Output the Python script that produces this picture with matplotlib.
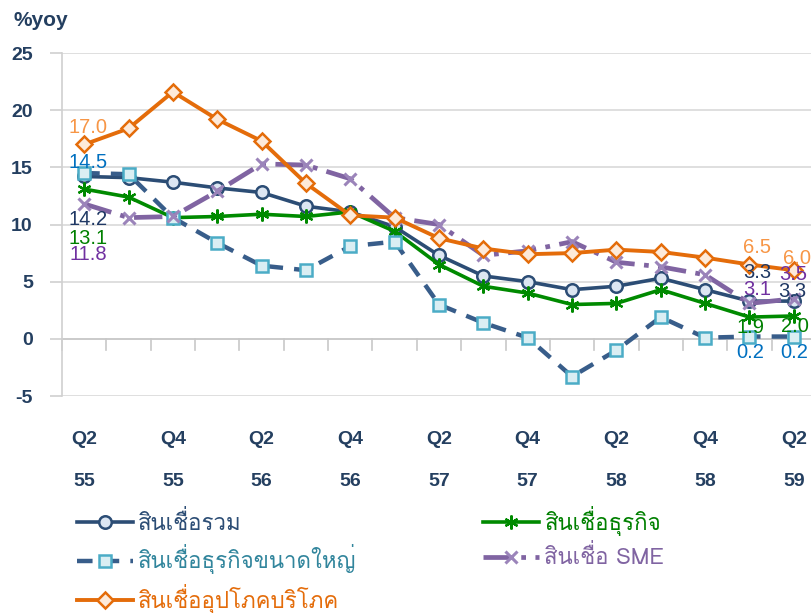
import numpy as np
import matplotlib
matplotlib.use('Agg')
import matplotlib.pyplot as plt
from matplotlib import font_manager, ft2font
from matplotlib.transforms import blended_transform_factory

# quarters Q2/55 .. Q2/59
quarters = ['Q2', 'Q3', 'Q4', 'Q1'] * 4 + ['Q2']
years = ['55', '55', '55', '56', '56', '56', '56', '57', '57', '57', '57',
         '58', '58', '58', '58', '59', '59']

total = [14.2, 14.1, 13.7, 13.2, 12.8, 11.6, 11.1, 9.8, 7.3, 5.5, 5.0,
         4.3, 4.6, 5.3, 4.3, 3.3, 3.3]
business = [13.1, 12.4, 10.6, 10.7, 10.9, 10.7, 11.1, 9.4, 6.5, 4.6, 4.0,
            3.0, 3.1, 4.3, 3.1, 1.9, 2.0]
large = [14.5, 14.4, 10.6, 8.4, 6.4, 6.0, 8.1, 8.5, 3.0, 1.4, 0.1,
         -3.3, -1.0, 1.9, 0.1, 0.2, 0.2]
sme = [11.8, 10.6, 10.7, 12.9, 15.3, 15.2, 14.0, 10.6, 10.0, 7.3, 7.7,
       8.5, 6.7, 6.3, 5.6, 3.1, 3.5]
consumer = [17.0, 18.4, 21.6, 19.2, 17.3, 13.6, 10.8, 10.6, 8.8, 7.9, 7.4,
            7.5, 7.8, 7.6, 7.1, 6.5, 6.0]

names = ['สินเชื่อรวม', 'สินเชื่อธุรกิจ', 'สินเชื่อธุรกิจขนาดใหญ่',
         'สินเชื่อ SME', 'สินเชื่ออุปโภคบริโภค']


def thai_font():
    for f in font_manager.fontManager.ttflist:
        try:
            if 0x0E2A in ft2font.FT2Font(f.fname).get_charmap():
                return f.name
        except Exception:
            pass
    return 'DejaVu Sans'


TH = thai_font()
plt.rcParams['font.family'] = ['Liberation Sans', 'DejaVu Sans']
plt.rcParams['axes.unicode_minus'] = False

NAVY = '#2C4D75'
TXT = '#243F60'

fig = plt.figure(figsize=(8.11, 6.13), dpi=100)
ax = fig.add_axes([62/811, 1-396/613, 754/811, 343/613])

x = np.arange(len(total))

ax.plot(x, total, color=NAVY, lw=2.6, marker='o', ms=9,
        mfc='#DCE6F2', mec=NAVY, mew=1.8, label=names[0], zorder=3)
ax.plot(x, business, color='#008A00', lw=2.6, marker=(6, 2, 0), ms=10,
        mec='#008A00', mew=1.6, label=names[1], zorder=4)
ax.plot(x, large, color='#385D8A', lw=3.2, ls=(0, (3.5, 2.5)), marker='s', ms=8.5,
        mfc='#DAEEF3', mec='#4BACC6', mew=1.8, label=names[2], zorder=5)
ax.plot(x, sme, color='#8064A2', lw=3.4, ls=(0, (6, 2, 1, 2)), marker='x', ms=9,
        mec='#9B84BA', mew=2.2, label=names[3], zorder=6)
ax.plot(x, consumer, color='#E46C0A', lw=2.8, marker='D', ms=8.5,
        mfc='#FDEADA', mec='#E46C0A', mew=1.8, label=names[4], zorder=7)

ax.set_xlim(-0.5, len(x) - 0.5)
ax.set_ylim(-5, 25)
ax.set_yticks(range(-5, 30, 5))
ax.grid(axis='y', color='#D9D9D9', lw=1.2)
ax.set_axisbelow(True)
for s in ['top', 'right', 'bottom']:
    ax.spines[s].set_visible(False)
ax.spines['left'].set_color('#D0D0D0')
ax.spines['left'].set_linewidth(1.2)
ax.tick_params(axis='y', length=9, color='#D0D0D0', width=1.2, pad=12,
               labelsize=14, labelcolor=TXT)
for lab in ax.get_yticklabels():
    lab.set_fontweight('bold')

# x axis at zero with category boundary ticks
ax.axhline(0, color='#C8C8C8', lw=1.2, zorder=1)
ax.set_xticks([])
for b in np.arange(-0.5, len(x), 1.0):
    ax.plot([b, b], [0, -0.95], color='#C8C8C8', lw=1.2, clip_on=False, zorder=1)

# category labels every two quarters
tr = blended_transform_factory(ax.transData, fig.transFigure)
for i in range(0, len(x), 2):
    ax.text(i, 1-440/613, quarters[i], transform=tr, ha='center', va='center',
            fontsize=14, fontweight='bold', color=TXT)
    ax.text(i, 1-482/613, years[i], transform=tr, ha='center', va='center',
            fontsize=14, fontweight='bold', color=TXT)

fig.text(13/811, 1-20/613, '%yoy', fontsize=15, fontweight='bold',
         color=TXT, ha='left', va='center')

# data labels
def lab(series, i, dx, dy, color):
    ax.annotate(f'{series[i]:.1f}', (x[i], series[i]), xytext=(dx, dy),
                textcoords='offset pixels', ha='center', va='center',
                fontsize=14.5, color=color, zorder=10, annotation_clip=False)

lab(consumer, 0, 4, 17, '#F79646')
lab(large, 0, 4, 11, '#0070C0')
lab(total, 0, 4, -43, '#1F3864')
lab(business, 0, 4, -49, '#008000')
lab(sme, 0, 4, -51, '#7030A0')

lab(consumer, 15, 8, 17, '#F79646')
lab(consumer, 16, 3, 12, '#F79646')
lab(total, 15, 8, 29, '#1F3864')
lab(sme, 16, -1, 24, '#7030A0')
lab(sme, 15, 8, 14, '#7030A0')
lab(total, 16, -2, 10, '#1F3864')
lab(business, 15, 1, -10, '#008000')
lab(business, 16, 1, -11, '#008000')
lab(large, 15, 1, -16, '#0070C0')
lab(large, 16, 0, -16, '#0070C0')

# legend
order = [0, 2, 4, 1, 3]
h, l = ax.get_legend_handles_labels()
leg = fig.legend([h[k] for k in order], [l[k] for k in order],
                 loc='upper left', bbox_to_anchor=(77/811, 1-506/613),
                 ncol=2, frameon=False, borderpad=0, borderaxespad=0,
                 handlelength=2.5, handletextpad=0.25, columnspacing=5.7,
                 labelspacing=0.42, prop={'family': [TH, 'Liberation Sans'], 'size': 16})
leg_colors = [NAVY, '#31859C', '#E46C0A', '#008000', '#8064A2']
for t, c in zip(leg.get_texts(), leg_colors):
    t.set_color(c)

fig.savefig('out.png', dpi=100)
